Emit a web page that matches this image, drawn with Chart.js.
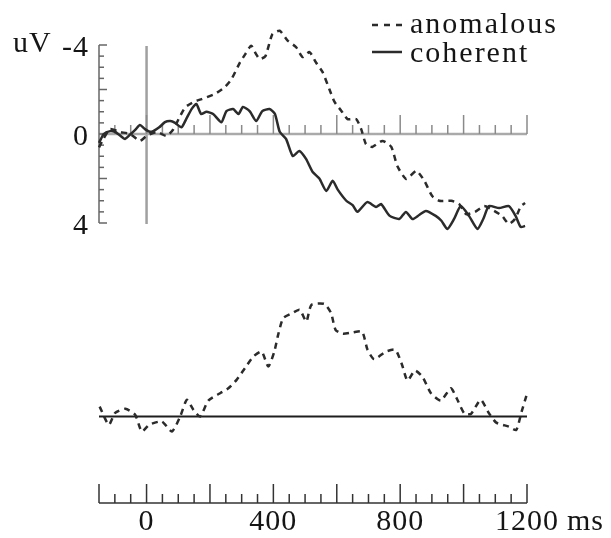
<!DOCTYPE html>
<html>
<head>
<meta charset="utf-8">
<script src="https://cdn.jsdelivr.net/npm/chart.js@4.4.1/dist/chart.umd.min.js"></script>
<style>
  body { margin: 0; background: #fff; }
  #wrap { position: relative; width: 611px; height: 538px; }
  canvas { position: absolute; left: 0; }
</style>
</head>
<body>
<div id="wrap">
  <canvas id="erpTop" width="611" height="260" style="top:0"></canvas>
  <canvas id="erpDiff" width="611" height="278" style="top:260px"></canvas>
</div>
<script>
// --- datos (ms, uV; negativo hacia arriba) ---
const anomalousMs = [-150, -136, -115, -84, -52, -21, 0, 32, 63, 84, 101, 122, 150, 174, 215, 246, 268, 294, 312, 330,
  345, 357, 375, 397, 420, 445, 472, 492, 514, 535, 555, 577, 593, 614, 634, 661, 677, 692, 712, 744,
  772, 791, 819, 851, 876, 901, 923, 961, 986, 1008, 1036, 1065, 1096, 1121, 1143, 1162, 1181, 1194];
const anomalousUv = [0.6, 0.22, -0.22, -0.09, 0, 0.31, 0.09, -0.09, 0.09, -0.2, -0.67, -1.2, -1.45, -1.57, -1.8, -2.1, -2.47, -3.2, -3.6, -3.97,
  -3.6, -3.37, -3.5, -4.49, -4.64, -4.2, -3.9, -3.46, -3.68, -3.2, -2.79, -2.0, -1.44, -1.05, -0.67, -0.67, -0.22, 0.45, 0.58, 0.31,
  0.58, 1.44, 2.02, 1.66, 2.1, 2.79, 3.0, 3.0, 3.15, 3.6, 3.5, 3.24, 3.45, 3.68, 4.04, 3.82, 3.24, 3.1];

const coherentMs = [-150, -135, -115, -100, -85, -68, -50, -35, -21, -5, 10, 21, 40, 58, 75, 90, 110, 125, 142, 157,
  172, 189, 210, 236, 252, 273, 290, 304, 325, 346, 365, 388, 405, 420, 440, 461, 482, 503, 524, 545,
  567, 587, 603, 630, 650, 665, 696, 724, 740, 766, 797, 818, 839, 860, 881, 912, 930, 949, 970, 991,
  1017, 1044, 1062, 1080, 1112, 1143, 1164, 1180, 1194];
const coherentUv = [0.4, 0, -0.13, -0.1, 0.05, 0.22, 0, -0.2, -0.4, -0.22, -0.1, -0.13, -0.3, -0.53, -0.58, -0.5, -0.3, -0.67, -1.12, -1.35,
  -0.9, -1.0, -0.9, -0.53, -1.03, -1.12, -0.9, -1.21, -1.03, -0.58, -1.03, -1.12, -0.9, -0.1, 0.22, 0.99, 0.76, 1.12, 1.71, 2.0,
  2.56, 2.1, 2.5, 3.0, 3.2, 3.5, 3.06, 3.28, 3.15, 3.67, 3.82, 3.5, 3.82, 3.64, 3.46, 3.68, 3.9, 4.27, 3.82, 3.24,
  3.68, 4.27, 3.82, 3.24, 3.33, 3.24, 3.68, 4.18, 4.13];

const diffMs = [-148, -119, -99, -67, -36, -15, 8, 48, 80, 106, 127, 148, 169, 195, 232, 258, 284, 310, 337, 363,
  384, 403, 415, 431, 460, 483, 504, 520, 561, 582, 596, 619, 650, 680, 697, 718, 755, 785, 806, 823,
  847, 871, 897, 928, 960, 978, 1002, 1023, 1054, 1080, 1103, 1143, 1166, 1183, 1198];
const diffUv = [-0.45, 0.37, -0.17, -0.35, -0.08, 0.67, 0.37, 0.22, 0.67, 0, -0.75, -0.3, 0, -0.72, -1.05, -1.27, -1.65, -2.17, -2.7, -2.92,
  -2.25, -2.92, -3.67, -4.42, -4.65, -4.8, -4.27, -5.02, -5.06, -4.65, -3.9, -3.72, -3.78, -3.82, -3.0, -2.58, -2.92, -3.0, -2.32, -1.62,
  -2.07, -1.77, -1.05, -0.72, -1.27, -0.83, -0.15, -0.12, -0.75, -0.15, 0.27, 0.45, 0.6, -0.22, -0.93];

const timeLabels = [0, 400, 800, 1200];
const voltLabels = [-4, 0, 4];
const seriesNames = ['anomalous', 'coherent'];

const serif = '30px "Liberation Serif", "Times New Roman", serif';
const ink = '#2b2b2b';
const textInk = '#151515';

function pts(xs, ys) { return xs.map((v, i) => ({ x: v, y: ys[i] })); }
function seg(ctx, x1, y1, x2, y2) { ctx.beginPath(); ctx.moveTo(x1, y1); ctx.lineTo(x2, y2); ctx.stroke(); }

const lineStyle = { pointRadius: 0, borderWidth: 2.5, borderColor: ink, tension: 0.2, clip: false, fill: false };
const xScale = { type: 'linear', min: -150, max: 1200, display: false };

// ejes del panel superior
const topAxes = {
    id: 'topAxes',
    beforeDatasetsDraw(chart) {
        const { ctx, scales: { x, y } } = chart;
        const left = x.getPixelForValue(-150), y0 = y.getPixelForValue(0);
        ctx.save();
        ctx.lineCap = 'butt';
        // linea vertical en 0 ms
        ctx.strokeStyle = '#a0a0a0'; ctx.lineWidth = 2.5;
        seg(ctx, x.getPixelForValue(0), y.getPixelForValue(-4) + 1, x.getPixelForValue(0), y.getPixelForValue(4) + 1);
        // linea de cero con marcas hacia arriba
        ctx.strokeStyle = '#aaaaaa'; ctx.lineWidth = 2.5;
        seg(ctx, left, y0, x.getPixelForValue(1200), y0);
        ctx.strokeStyle = '#8a8a8a'; ctx.lineWidth = 1.5;
        for (let t = -100; t <= 1200; t += 50) {
            const px = x.getPixelForValue(t);
            seg(ctx, px, y0, px, y0 - (t % 200 === 0 ? 19 : 9));
        }
        // eje de uV
        ctx.strokeStyle = '#666'; ctx.lineWidth = 1.5;
        seg(ctx, left, y.getPixelForValue(-4), left, y.getPixelForValue(4));
        for (let v = -4; v <= 4; v += 0.5) {
            const py = y.getPixelForValue(v);
            seg(ctx, left, py, left + (v % 2 === 0 ? 8 : 5), py);
        }
        ctx.restore();
    },
    afterDraw(chart) {
        const { ctx, scales: { x, y } } = chart;
        const left = x.getPixelForValue(-150);
        ctx.save();
        ctx.font = serif; ctx.fillStyle = textInk; ctx.letterSpacing = '1px';
        ctx.textAlign = 'right'; ctx.textBaseline = 'alphabetic';
        voltLabels.forEach(v => ctx.fillText(String(v), left - 10, y.getPixelForValue(v) + 11));
        ctx.textAlign = 'left';
        ctx.fillText('uV', 13, y.getPixelForValue(-4) + 7);
        // leyenda
        ctx.strokeStyle = ink; ctx.lineWidth = 2.5;
        ctx.setLineDash([6, 6]);
        seg(ctx, 372, 25, 402, 25);
        ctx.setLineDash([]);
        seg(ctx, 372, 52, 402, 52);
        ctx.letterSpacing = '2px';
        ctx.fillText(seriesNames[0], 410, 33);
        ctx.fillText(seriesNames[1], 410, 62);
        ctx.restore();
    }
};

// eje de tiempo y linea de cero del panel inferior
const diffAxes = {
    id: 'diffAxes',
    beforeDatasetsDraw(chart) {
        const { ctx, chartArea, scales: { x, y } } = chart;
        const left = x.getPixelForValue(-150), right = x.getPixelForValue(1200);
        const y0 = y.getPixelForValue(0), yb = chartArea.bottom;
        ctx.save();
        ctx.strokeStyle = '#1e1e1e'; ctx.lineWidth = 2;
        seg(ctx, left, y0, right, y0);
        ctx.strokeStyle = '#333'; ctx.lineWidth = 1.5;
        seg(ctx, left, yb, right, yb);
        for (let t = -150; t <= 1200; t += 50) {
            const px = x.getPixelForValue(t);
            const major = t % 200 === 0 || t === -150;
            seg(ctx, px, yb, px, yb - (major ? 19 : 9));
        }
        ctx.font = serif; ctx.fillStyle = textInk; ctx.letterSpacing = '1px';
        ctx.textAlign = 'center'; ctx.textBaseline = 'alphabetic';
        timeLabels.forEach(t => ctx.fillText(String(t), x.getPixelForValue(t), yb + 27));
        const w = ctx.measureText(String(timeLabels[timeLabels.length - 1])).width;
        ctx.textAlign = 'left';
        ctx.fillText('ms', x.getPixelForValue(1200) + w / 2 + 8, yb + 27);
        ctx.restore();
    }
};

new Chart(document.getElementById('erpTop'), {
    type: 'line',
    data: {
        datasets: [
            { label: seriesNames[0], data: pts(anomalousMs, anomalousUv), borderDash: [6, 5], ...lineStyle },
            { label: seriesNames[1], data: pts(coherentMs, coherentUv), ...lineStyle }
        ]
    },
    options: {
        responsive: false, animation: false, devicePixelRatio: 1,
        layout: { padding: { left: 99, right: 84, top: 45, bottom: 37 } },
        scales: { x: xScale, y: { min: -4, max: 4, reverse: true, display: false } },
        plugins: { legend: { display: false }, tooltip: { enabled: false } }
    },
    plugins: [topAxes]
});

new Chart(document.getElementById('erpDiff'), {
    type: 'line',
    data: {
        datasets: [
            { label: 'anomalous - coherent', data: pts(diffMs, diffUv), borderDash: [6, 5], ...lineStyle }
        ]
    },
    options: {
        responsive: false, animation: false, devicePixelRatio: 1,
        layout: { padding: { left: 99, right: 84, top: 23, bottom: 35 } },
        scales: { x: xScale, y: { min: -6, max: 3.88, reverse: true, display: false } },
        plugins: { legend: { display: false }, tooltip: { enabled: false } }
    },
    plugins: [diffAxes]
});
</script>
</body>
</html>
